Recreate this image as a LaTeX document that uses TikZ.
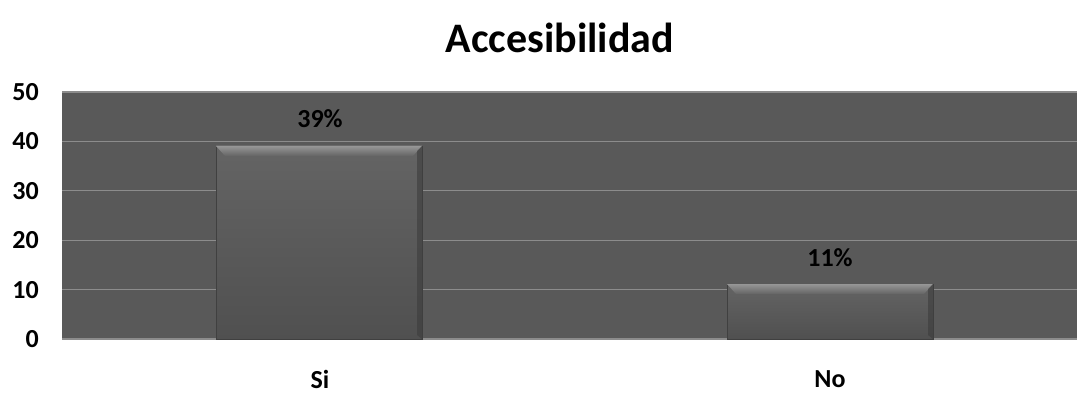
\documentclass[tikz,border=0pt]{standalone}
\usepackage{fontspec}
\setmainfont{Carlito}
\usetikzlibrary{positioning}
\definecolor{plotbg}{RGB}{89,89,89}
\definecolor{gridgray}{RGB}{140,140,140}
\definecolor{bartop}{RGB}{100,100,100}
\definecolor{barbot}{RGB}{80,80,80}
\definecolor{bevellight}{RGB}{150,150,150}
\definecolor{beveldark}{RGB}{60,60,60}

\begin{document}
\begin{tikzpicture}
        [
        x=1pt, y=-1pt,
        every node/.style={font=\bfseries\fontsize{26}{30}\selectfont, text=black, inner sep=0pt},
        titlelabel/.style={font=\bfseries\fontsize{42}{48}\selectfont},
        gridline/.style={draw=gridgray, line width=1.4pt},
        barbox/.style={draw=black!75, line width=0.8pt, top color=bartop, bottom color=barbot},
        barlight/.style={top color=bevellight, bottom color=bartop},
        bardark/.style={fill=beveldark, opacity=0.6}
        ]
        \useasboundingbox (0,0) rectangle (1077,393);
        % Title
        \node[titlelabel] (title) at (560,38) {Accesibilidad};
        % Plot area
        \fill[plotbg] (62,92) rectangle (1077,339);
        \foreach \v/\y in {0/339,10/289.6,20/240.2,30/190.8,40/141.4,50/92}
        {
            \draw[gridline] (62,\y) -- (1077,\y);
            \node[anchor=east] (tick\v) at (39,\y) {\v};
        }
        % Bars
        \shade[barbox] (216,146) rectangle (422,339);
        \shade[barlight] (216,146) -- (422,146) -- (413,156) -- (225,156) -- cycle;
        \fill[bardark] (422,146) -- (422,339) -- (417,335) -- (417,151) -- cycle;
        \shade[barbox] (727,284) rectangle (933,339);
        \shade[barlight] (727,284) -- (933,284) -- (924,294) -- (736,294) -- cycle;
        \fill[bardark] (933,284) -- (933,339) -- (928,335) -- (928,289) -- cycle;
        % Value labels
        \node (valsi) at (320,119) {39\%};
        \node (valno) at (830,258) {11\%};
        % Categories
        \node (catsi) at (320,379) {Si};
        \node (catno) at (830,379) {No};
    \end{tikzpicture}
\end{document}
